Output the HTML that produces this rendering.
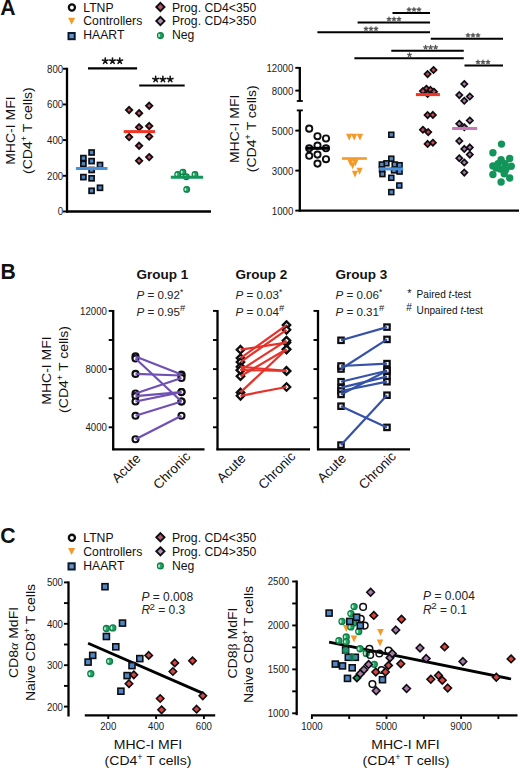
<!DOCTYPE html>
<html><head><meta charset="utf-8"><style>
html,body{margin:0;padding:0;background:#fff;}
svg{display:block;font-family:"Liberation Sans", sans-serif;}
</style></head><body>
<svg width="520" height="768" viewBox="0 0 520 768">
<rect width="520" height="768" fill="#fff"/>
<text x="0.20" y="14.80" font-size="21.2" text-anchor="start" font-weight="bold" fill="#111" >A</text>
<circle cx="71.90" cy="7.50" r="3.05" fill="#fff" stroke="#0d0d12" stroke-width="2.3"/>
<text x="83.30" y="11.50" font-size="12.2" text-anchor="start" font-weight="normal" fill="#111" >LTNP</text>
<path d="M68.10 17.65L75.10 17.65L71.60 24.65Z" fill="#f39a2a"/>
<text x="83.30" y="25.35" font-size="12.2" text-anchor="start" font-weight="normal" fill="#111" >Controllers</text>
<rect x="68.50" y="33.00" width="6.2" height="6.2" fill="#6d93c0" stroke="#0b1a30" stroke-width="2.0"/>
<text x="83.30" y="39.20" font-size="12.2" text-anchor="start" font-weight="normal" fill="#111" >HAART</text>
<path d="M160.40 2.90L164.50 7.00L160.40 11.10L156.30 7.00Z" fill="#b25a68" stroke="#0d0d12" stroke-width="1.9"/>
<text x="171.90" y="11.50" font-size="12.2" text-anchor="start" font-weight="normal" fill="#111" >Prog. CD4&lt;350</text>
<path d="M160.40 16.95L164.50 21.05L160.40 25.15L156.30 21.05Z" fill="#b490b4" stroke="#0d0d12" stroke-width="1.9"/>
<text x="171.90" y="25.35" font-size="12.2" text-anchor="start" font-weight="normal" fill="#111" >Prog. CD4&gt;350</text>
<circle cx="160.40" cy="35.60" r="2.90" fill="#23a264" stroke="#0b8045" stroke-width="1.3"/>
<ellipse cx="159.07" cy="35.60" rx="0.91" ry="1.75" fill="#bfe8d2"/>
<text x="171.90" y="39.20" font-size="12.2" text-anchor="start" font-weight="normal" fill="#111" >Neg</text>
<line x1="67.00" y1="67.75" x2="67.00" y2="212.50" stroke="#000" stroke-width="2.3"/>
<line x1="66.00" y1="211.50" x2="211.00" y2="211.50" stroke="#000" stroke-width="2.3"/>
<line x1="63.00" y1="211.50" x2="67.00" y2="211.50" stroke="#000" stroke-width="1.9"/>
<text x="0" y="0" font-size="10.5" text-anchor="end" fill="#1a1a1a" transform="translate(63.20,215.40) scale(0.92,1)">0</text>
<line x1="63.00" y1="175.81" x2="67.00" y2="175.81" stroke="#000" stroke-width="1.9"/>
<text x="0" y="0" font-size="10.5" text-anchor="end" fill="#1a1a1a" transform="translate(63.20,179.71) scale(0.92,1)">200</text>
<line x1="63.00" y1="140.12" x2="67.00" y2="140.12" stroke="#000" stroke-width="1.9"/>
<text x="0" y="0" font-size="10.5" text-anchor="end" fill="#1a1a1a" transform="translate(63.20,144.03) scale(0.92,1)">400</text>
<line x1="63.00" y1="104.44" x2="67.00" y2="104.44" stroke="#000" stroke-width="1.9"/>
<text x="0" y="0" font-size="10.5" text-anchor="end" fill="#1a1a1a" transform="translate(63.20,108.34) scale(0.92,1)">600</text>
<line x1="63.00" y1="68.75" x2="67.00" y2="68.75" stroke="#000" stroke-width="1.9"/>
<text x="0" y="0" font-size="10.5" text-anchor="end" fill="#1a1a1a" transform="translate(63.20,72.65) scale(0.92,1)">800</text>
<text x="0" y="0" font-size="13.3" text-anchor="middle" fill="#111" transform="translate(14.60,130.60) rotate(-90) scale(1.055,1)" >MHC-I MFI</text>
<text x="0" y="0" font-size="13.3" text-anchor="middle" fill="#111" transform="translate(32.00,130.60) rotate(-90) scale(1.055,1)" >(CD4<tspan font-size="8.5" dy="-4.6">+</tspan><tspan dy="4.6"> </tspan>T cells)</text>
<line x1="88.00" y1="68.40" x2="137.10" y2="68.40" stroke="#000" stroke-width="2.1"/>
<path d="M105.25 61.00L105.25 58.10M105.25 61.00L108.01 60.10M105.25 61.00L106.95 63.35M105.25 61.00L103.55 63.35M105.25 61.00L102.49 60.10" stroke="#111" stroke-width="1.6" stroke-linecap="round" fill="none"/>
<path d="M112.50 61.00L112.50 58.10M112.50 61.00L115.26 60.10M112.50 61.00L114.20 63.35M112.50 61.00L110.80 63.35M112.50 61.00L109.74 60.10" stroke="#111" stroke-width="1.6" stroke-linecap="round" fill="none"/>
<path d="M119.75 61.00L119.75 58.10M119.75 61.00L122.51 60.10M119.75 61.00L121.45 63.35M119.75 61.00L118.05 63.35M119.75 61.00L116.99 60.10" stroke="#111" stroke-width="1.6" stroke-linecap="round" fill="none"/>
<line x1="139.20" y1="85.50" x2="184.70" y2="85.50" stroke="#000" stroke-width="2.1"/>
<path d="M155.65 79.30L155.65 76.40M155.65 79.30L158.41 78.40M155.65 79.30L157.35 81.65M155.65 79.30L153.95 81.65M155.65 79.30L152.89 78.40" stroke="#111" stroke-width="1.6" stroke-linecap="round" fill="none"/>
<path d="M162.90 79.30L162.90 76.40M162.90 79.30L165.66 78.40M162.90 79.30L164.60 81.65M162.90 79.30L161.20 81.65M162.90 79.30L160.14 78.40" stroke="#111" stroke-width="1.6" stroke-linecap="round" fill="none"/>
<path d="M170.15 79.30L170.15 76.40M170.15 79.30L172.91 78.40M170.15 79.30L171.85 81.65M170.15 79.30L168.45 81.65M170.15 79.30L167.39 78.40" stroke="#111" stroke-width="1.6" stroke-linecap="round" fill="none"/>
<rect x="89.10" y="150.00" width="5.00" height="5.00" fill="#4f86c4" stroke="#0d0d12" stroke-width="1.7"/>
<rect x="80.90" y="155.60" width="5.00" height="5.00" fill="#4f86c4" stroke="#0d0d12" stroke-width="1.7"/>
<rect x="89.10" y="158.60" width="5.00" height="5.00" fill="#4f86c4" stroke="#0d0d12" stroke-width="1.7"/>
<rect x="80.90" y="161.30" width="5.00" height="5.00" fill="#4f86c4" stroke="#0d0d12" stroke-width="1.7"/>
<rect x="97.50" y="162.50" width="5.00" height="5.00" fill="#4f86c4" stroke="#0d0d12" stroke-width="1.7"/>
<rect x="89.10" y="167.50" width="5.00" height="5.00" fill="#4f86c4" stroke="#0d0d12" stroke-width="1.7"/>
<rect x="80.90" y="174.60" width="5.00" height="5.00" fill="#4f86c4" stroke="#0d0d12" stroke-width="1.7"/>
<rect x="89.10" y="175.80" width="5.00" height="5.00" fill="#4f86c4" stroke="#0d0d12" stroke-width="1.7"/>
<rect x="97.50" y="185.30" width="5.00" height="5.00" fill="#4f86c4" stroke="#0d0d12" stroke-width="1.7"/>
<rect x="89.10" y="188.30" width="5.00" height="5.00" fill="#4f86c4" stroke="#0d0d12" stroke-width="1.7"/>
<line x1="75.90" y1="168.50" x2="107.50" y2="168.50" stroke="#4a90d8" stroke-width="3.0"/>
<path d="M129.10 106.80L132.30 110.00L129.10 113.20L125.90 110.00Z" fill="#c9505a" stroke="#0d0d12" stroke-width="1.8"/>
<path d="M139.10 110.00L142.30 113.20L139.10 116.40L135.90 113.20Z" fill="#c9505a" stroke="#0d0d12" stroke-width="1.8"/>
<path d="M149.20 102.55L152.40 105.75L149.20 108.95L146.00 105.75Z" fill="#c9505a" stroke="#0d0d12" stroke-width="1.8"/>
<path d="M139.10 124.10L142.30 127.30L139.10 130.50L135.90 127.30Z" fill="#c9505a" stroke="#0d0d12" stroke-width="1.8"/>
<path d="M149.20 122.80L152.40 126.00L149.20 129.20L146.00 126.00Z" fill="#c9505a" stroke="#0d0d12" stroke-width="1.8"/>
<path d="M129.10 133.90L132.30 137.10L129.10 140.30L125.90 137.10Z" fill="#c9505a" stroke="#0d0d12" stroke-width="1.8"/>
<path d="M149.20 133.30L152.40 136.50L149.20 139.70L146.00 136.50Z" fill="#c9505a" stroke="#0d0d12" stroke-width="1.8"/>
<path d="M139.10 142.55L142.30 145.75L139.10 148.95L135.90 145.75Z" fill="#c9505a" stroke="#0d0d12" stroke-width="1.8"/>
<path d="M149.20 153.90L152.40 157.10L149.20 160.30L146.00 157.10Z" fill="#c9505a" stroke="#0d0d12" stroke-width="1.8"/>
<path d="M139.10 157.60L142.30 160.80L139.10 164.00L135.90 160.80Z" fill="#c9505a" stroke="#0d0d12" stroke-width="1.8"/>
<line x1="123.70" y1="131.60" x2="155.00" y2="131.60" stroke="#ee3526" stroke-width="3.0"/>
<circle cx="177.70" cy="174.40" r="2.80" fill="#23a264" stroke="#0b8045" stroke-width="1.3"/>
<ellipse cx="176.41" cy="174.40" rx="0.88" ry="1.70" fill="#bfe8d2"/>
<circle cx="182.90" cy="172.10" r="2.80" fill="#23a264" stroke="#0b8045" stroke-width="1.3"/>
<ellipse cx="181.61" cy="172.10" rx="0.88" ry="1.70" fill="#bfe8d2"/>
<circle cx="195.00" cy="174.40" r="2.80" fill="#23a264" stroke="#0b8045" stroke-width="1.3"/>
<ellipse cx="193.71" cy="174.40" rx="0.88" ry="1.70" fill="#bfe8d2"/>
<circle cx="186.30" cy="176.70" r="2.80" fill="#23a264" stroke="#0b8045" stroke-width="1.3"/>
<ellipse cx="185.01" cy="176.70" rx="0.88" ry="1.70" fill="#bfe8d2"/>
<circle cx="186.70" cy="189.40" r="2.80" fill="#23a264" stroke="#0b8045" stroke-width="1.3"/>
<ellipse cx="185.41" cy="189.40" rx="0.88" ry="1.70" fill="#bfe8d2"/>
<line x1="170.80" y1="177.30" x2="203.10" y2="177.30" stroke="#13955a" stroke-width="3.0"/>
<line x1="299.80" y1="67.00" x2="299.80" y2="101.00" stroke="#000" stroke-width="2.3"/>
<line x1="296.80" y1="101.00" x2="302.80" y2="101.00" stroke="#000" stroke-width="1.8"/>
<line x1="296.80" y1="110.40" x2="302.80" y2="110.40" stroke="#000" stroke-width="1.8"/>
<line x1="299.80" y1="110.40" x2="299.80" y2="211.60" stroke="#000" stroke-width="2.3"/>
<line x1="298.80" y1="210.60" x2="519.00" y2="210.60" stroke="#000" stroke-width="2.3"/>
<line x1="295.30" y1="67.85" x2="299.80" y2="67.85" stroke="#000" stroke-width="1.9"/>
<text x="0" y="0" font-size="10.5" text-anchor="end" fill="#1a1a1a" transform="translate(293.30,71.75) scale(0.92,1)">12000</text>
<line x1="295.30" y1="90.60" x2="299.80" y2="90.60" stroke="#000" stroke-width="1.9"/>
<text x="0" y="0" font-size="10.5" text-anchor="end" fill="#1a1a1a" transform="translate(293.30,94.50) scale(0.92,1)">8000</text>
<line x1="295.30" y1="130.60" x2="299.80" y2="130.60" stroke="#000" stroke-width="1.9"/>
<text x="0" y="0" font-size="10.5" text-anchor="end" fill="#1a1a1a" transform="translate(293.30,134.50) scale(0.92,1)">5000</text>
<line x1="295.30" y1="170.60" x2="299.80" y2="170.60" stroke="#000" stroke-width="1.9"/>
<text x="0" y="0" font-size="10.5" text-anchor="end" fill="#1a1a1a" transform="translate(293.30,174.50) scale(0.92,1)">3000</text>
<line x1="295.30" y1="210.60" x2="299.80" y2="210.60" stroke="#000" stroke-width="1.9"/>
<text x="0" y="0" font-size="10.5" text-anchor="end" fill="#1a1a1a" transform="translate(293.30,214.50) scale(0.92,1)">1000</text>
<text x="0" y="0" font-size="13.3" text-anchor="middle" fill="#111" transform="translate(239.00,128.80) rotate(-90) scale(1.055,1)" >MHC-I MFI</text>
<text x="0" y="0" font-size="13.3" text-anchor="middle" fill="#111" transform="translate(256.00,128.80) rotate(-90) scale(1.055,1)" >(CD4<tspan font-size="8.5" dy="-4.6">+</tspan><tspan dy="4.6"> </tspan>T cells)</text>
<line x1="392.50" y1="13.00" x2="430.00" y2="13.00" stroke="#000" stroke-width="2.0"/>
<path d="M409.00 9.60L409.00 7.70M409.00 9.60L410.81 9.01M409.00 9.60L410.12 11.14M409.00 9.60L407.88 11.14M409.00 9.60L407.19 9.01" stroke="#555" stroke-width="1.3" stroke-linecap="round" fill="none"/>
<path d="M414.00 9.60L414.00 7.70M414.00 9.60L415.81 9.01M414.00 9.60L415.12 11.14M414.00 9.60L412.88 11.14M414.00 9.60L412.19 9.01" stroke="#555" stroke-width="1.3" stroke-linecap="round" fill="none"/>
<path d="M419.00 9.60L419.00 7.70M419.00 9.60L420.81 9.01M419.00 9.60L420.12 11.14M419.00 9.60L417.88 11.14M419.00 9.60L417.19 9.01" stroke="#555" stroke-width="1.3" stroke-linecap="round" fill="none"/>
<line x1="357.60" y1="22.50" x2="430.00" y2="22.50" stroke="#000" stroke-width="2.0"/>
<path d="M389.00 19.10L389.00 17.20M389.00 19.10L390.81 18.51M389.00 19.10L390.12 20.64M389.00 19.10L387.88 20.64M389.00 19.10L387.19 18.51" stroke="#555" stroke-width="1.3" stroke-linecap="round" fill="none"/>
<path d="M394.00 19.10L394.00 17.20M394.00 19.10L395.81 18.51M394.00 19.10L395.12 20.64M394.00 19.10L392.88 20.64M394.00 19.10L392.19 18.51" stroke="#555" stroke-width="1.3" stroke-linecap="round" fill="none"/>
<path d="M399.00 19.10L399.00 17.20M399.00 19.10L400.81 18.51M399.00 19.10L400.12 20.64M399.00 19.10L397.88 20.64M399.00 19.10L397.19 18.51" stroke="#555" stroke-width="1.3" stroke-linecap="round" fill="none"/>
<line x1="317.40" y1="32.20" x2="430.00" y2="32.20" stroke="#000" stroke-width="2.0"/>
<path d="M366.00 28.80L366.00 26.90M366.00 28.80L367.81 28.21M366.00 28.80L367.12 30.34M366.00 28.80L364.88 30.34M366.00 28.80L364.19 28.21" stroke="#555" stroke-width="1.3" stroke-linecap="round" fill="none"/>
<path d="M371.00 28.80L371.00 26.90M371.00 28.80L372.81 28.21M371.00 28.80L372.12 30.34M371.00 28.80L369.88 30.34M371.00 28.80L369.19 28.21" stroke="#555" stroke-width="1.3" stroke-linecap="round" fill="none"/>
<path d="M376.00 28.80L376.00 26.90M376.00 28.80L377.81 28.21M376.00 28.80L377.12 30.34M376.00 28.80L374.88 30.34M376.00 28.80L374.19 28.21" stroke="#555" stroke-width="1.3" stroke-linecap="round" fill="none"/>
<line x1="430.75" y1="38.75" x2="503.00" y2="38.75" stroke="#000" stroke-width="2.0"/>
<path d="M468.00 35.35L468.00 33.45M468.00 35.35L469.81 34.76M468.00 35.35L469.12 36.89M468.00 35.35L466.88 36.89M468.00 35.35L466.19 34.76" stroke="#555" stroke-width="1.3" stroke-linecap="round" fill="none"/>
<path d="M473.00 35.35L473.00 33.45M473.00 35.35L474.81 34.76M473.00 35.35L474.12 36.89M473.00 35.35L471.88 36.89M473.00 35.35L471.19 34.76" stroke="#555" stroke-width="1.3" stroke-linecap="round" fill="none"/>
<path d="M478.00 35.35L478.00 33.45M478.00 35.35L479.81 34.76M478.00 35.35L479.12 36.89M478.00 35.35L476.88 36.89M478.00 35.35L476.19 34.76" stroke="#555" stroke-width="1.3" stroke-linecap="round" fill="none"/>
<line x1="391.30" y1="50.75" x2="463.75" y2="50.75" stroke="#000" stroke-width="2.0"/>
<path d="M425.60 47.35L425.60 45.45M425.60 47.35L427.41 46.76M425.60 47.35L426.72 48.89M425.60 47.35L424.48 48.89M425.60 47.35L423.79 46.76" stroke="#555" stroke-width="1.3" stroke-linecap="round" fill="none"/>
<path d="M430.60 47.35L430.60 45.45M430.60 47.35L432.41 46.76M430.60 47.35L431.72 48.89M430.60 47.35L429.48 48.89M430.60 47.35L428.79 46.76" stroke="#555" stroke-width="1.3" stroke-linecap="round" fill="none"/>
<path d="M435.60 47.35L435.60 45.45M435.60 47.35L437.41 46.76M435.60 47.35L436.72 48.89M435.60 47.35L434.48 48.89M435.60 47.35L433.79 46.76" stroke="#555" stroke-width="1.3" stroke-linecap="round" fill="none"/>
<line x1="354.40" y1="58.25" x2="463.75" y2="58.25" stroke="#000" stroke-width="2.0"/>
<path d="M409.50 54.85L409.50 52.95M409.50 54.85L411.31 54.26M409.50 54.85L410.62 56.39M409.50 54.85L408.38 56.39M409.50 54.85L407.69 54.26" stroke="#555" stroke-width="1.3" stroke-linecap="round" fill="none"/>
<line x1="464.50" y1="65.50" x2="503.00" y2="65.50" stroke="#000" stroke-width="2.0"/>
<path d="M478.00 62.10L478.00 60.20M478.00 62.10L479.81 61.51M478.00 62.10L479.12 63.64M478.00 62.10L476.88 63.64M478.00 62.10L476.19 61.51" stroke="#555" stroke-width="1.3" stroke-linecap="round" fill="none"/>
<path d="M483.00 62.10L483.00 60.20M483.00 62.10L484.81 61.51M483.00 62.10L484.12 63.64M483.00 62.10L481.88 63.64M483.00 62.10L481.19 61.51" stroke="#555" stroke-width="1.3" stroke-linecap="round" fill="none"/>
<path d="M488.00 62.10L488.00 60.20M488.00 62.10L489.81 61.51M488.00 62.10L489.12 63.64M488.00 62.10L486.88 63.64M488.00 62.10L486.19 61.51" stroke="#555" stroke-width="1.3" stroke-linecap="round" fill="none"/>
<circle cx="309.20" cy="128.65" r="3.10" fill="#fff" stroke="#0d0d12" stroke-width="1.9"/>
<circle cx="317.50" cy="136.20" r="3.10" fill="#fff" stroke="#0d0d12" stroke-width="1.9"/>
<circle cx="326.00" cy="138.50" r="3.10" fill="#fff" stroke="#0d0d12" stroke-width="1.9"/>
<circle cx="317.50" cy="145.60" r="3.10" fill="#fff" stroke="#0d0d12" stroke-width="1.9"/>
<circle cx="309.20" cy="148.30" r="3.10" fill="#fff" stroke="#0d0d12" stroke-width="1.9"/>
<circle cx="326.00" cy="148.30" r="3.10" fill="#fff" stroke="#0d0d12" stroke-width="1.9"/>
<circle cx="309.20" cy="155.80" r="3.10" fill="#fff" stroke="#0d0d12" stroke-width="1.9"/>
<circle cx="317.50" cy="154.60" r="3.10" fill="#fff" stroke="#0d0d12" stroke-width="1.9"/>
<circle cx="326.00" cy="159.20" r="3.10" fill="#fff" stroke="#0d0d12" stroke-width="1.9"/>
<circle cx="317.50" cy="163.60" r="3.10" fill="#fff" stroke="#0d0d12" stroke-width="1.9"/>
<line x1="305.80" y1="148.30" x2="329.40" y2="148.30" stroke="#000" stroke-width="3.0"/>
<path d="M346.10 133.80L352.30 133.80L349.20 140.80Z" fill="#f39a2a"/>
<path d="M351.10 133.80L357.30 133.80L354.20 140.80Z" fill="#f39a2a"/>
<path d="M356.90 133.80L363.10 133.80L360.00 140.80Z" fill="#f39a2a"/>
<path d="M347.30 159.20L353.50 159.20L350.40 166.20Z" fill="#f39a2a"/>
<path d="M352.30 159.20L358.50 159.20L355.40 166.20Z" fill="#f39a2a"/>
<path d="M349.60 162.30L355.80 162.30L352.70 169.30Z" fill="#f39a2a"/>
<path d="M351.90 170.70L358.10 170.70L355.00 177.70Z" fill="#f39a2a"/>
<path d="M356.50 167.70L362.70 167.70L359.60 174.70Z" fill="#f39a2a"/>
<line x1="341.90" y1="158.50" x2="366.90" y2="158.50" stroke="#f39a2a" stroke-width="2.6"/>
<rect x="388.85" y="132.30" width="4.90" height="4.90" fill="#4f86c4" stroke="#0d0d12" stroke-width="1.6"/>
<rect x="388.85" y="156.25" width="4.90" height="4.90" fill="#4f86c4" stroke="#0d0d12" stroke-width="1.6"/>
<rect x="383.95" y="160.85" width="4.90" height="4.90" fill="#4f86c4" stroke="#0d0d12" stroke-width="1.6"/>
<rect x="379.35" y="162.05" width="4.90" height="4.90" fill="#4f86c4" stroke="#0d0d12" stroke-width="1.6"/>
<rect x="392.25" y="162.05" width="4.90" height="4.90" fill="#4f86c4" stroke="#0d0d12" stroke-width="1.6"/>
<rect x="397.15" y="162.75" width="4.90" height="4.90" fill="#4f86c4" stroke="#0d0d12" stroke-width="1.6"/>
<rect x="379.55" y="167.05" width="4.90" height="4.90" fill="#4f86c4" stroke="#0d0d12" stroke-width="1.6"/>
<rect x="391.55" y="167.95" width="4.90" height="4.90" fill="#4f86c4" stroke="#0d0d12" stroke-width="1.6"/>
<rect x="397.15" y="169.15" width="4.90" height="4.90" fill="#4f86c4" stroke="#0d0d12" stroke-width="1.6"/>
<rect x="379.95" y="171.65" width="4.90" height="4.90" fill="#4f86c4" stroke="#0d0d12" stroke-width="1.6"/>
<rect x="388.85" y="175.35" width="4.90" height="4.90" fill="#4f86c4" stroke="#0d0d12" stroke-width="1.6"/>
<rect x="396.85" y="183.05" width="4.90" height="4.90" fill="#4f86c4" stroke="#0d0d12" stroke-width="1.6"/>
<rect x="388.85" y="189.65" width="4.90" height="4.90" fill="#4f86c4" stroke="#0d0d12" stroke-width="1.6"/>
<line x1="379.30" y1="168.90" x2="403.20" y2="168.90" stroke="#4a90d8" stroke-width="3.0"/>
<path d="M433.50 66.90L436.60 70.00L433.50 73.10L430.40 70.00Z" fill="#c44a55" stroke="#0d0d12" stroke-width="1.7"/>
<path d="M427.60 71.00L430.70 74.10L427.60 77.20L424.50 74.10Z" fill="#c44a55" stroke="#0d0d12" stroke-width="1.7"/>
<path d="M426.40 85.60L429.50 88.70L426.40 91.80L423.30 88.70Z" fill="#c44a55" stroke="#0d0d12" stroke-width="1.7"/>
<path d="M430.50 86.80L433.60 89.90L430.50 93.00L427.40 89.90Z" fill="#c44a55" stroke="#0d0d12" stroke-width="1.7"/>
<path d="M422.90 88.00L426.00 91.10L422.90 94.20L419.80 91.10Z" fill="#c44a55" stroke="#0d0d12" stroke-width="1.7"/>
<path d="M434.00 88.60L437.10 91.70L434.00 94.80L430.90 91.70Z" fill="#c44a55" stroke="#0d0d12" stroke-width="1.7"/>
<path d="M427.60 90.90L430.70 94.00L427.60 97.10L424.50 94.00Z" fill="#c44a55" stroke="#0d0d12" stroke-width="1.7"/>
<path d="M427.60 112.00L430.70 115.10L427.60 118.20L424.50 115.10Z" fill="#c44a55" stroke="#0d0d12" stroke-width="1.7"/>
<path d="M432.90 111.80L436.00 114.90L432.90 118.00L429.80 114.90Z" fill="#c44a55" stroke="#0d0d12" stroke-width="1.7"/>
<path d="M422.90 126.70L426.00 129.80L422.90 132.90L419.80 129.80Z" fill="#c44a55" stroke="#0d0d12" stroke-width="1.7"/>
<path d="M428.20 129.00L431.30 132.10L428.20 135.20L425.10 132.10Z" fill="#c44a55" stroke="#0d0d12" stroke-width="1.7"/>
<path d="M427.60 140.80L430.70 143.90L427.60 147.00L424.50 143.90Z" fill="#c44a55" stroke="#0d0d12" stroke-width="1.7"/>
<path d="M432.90 139.60L436.00 142.70L432.90 145.80L429.80 142.70Z" fill="#c44a55" stroke="#0d0d12" stroke-width="1.7"/>
<line x1="415.90" y1="94.60" x2="439.90" y2="94.60" stroke="#ee3526" stroke-width="3.0"/>
<path d="M464.30 80.90L467.40 84.00L464.30 87.10L461.20 84.00Z" fill="#a77aa6" stroke="#0d0d12" stroke-width="1.7"/>
<path d="M459.30 92.00L462.40 95.10L459.30 98.20L456.20 95.10Z" fill="#a77aa6" stroke="#0d0d12" stroke-width="1.7"/>
<path d="M469.80 93.40L472.90 96.50L469.80 99.60L466.70 96.50Z" fill="#a77aa6" stroke="#0d0d12" stroke-width="1.7"/>
<path d="M464.30 97.70L467.40 100.80L464.30 103.90L461.20 100.80Z" fill="#a77aa6" stroke="#0d0d12" stroke-width="1.7"/>
<path d="M469.80 117.40L472.90 120.50L469.80 123.60L466.70 120.50Z" fill="#a77aa6" stroke="#0d0d12" stroke-width="1.7"/>
<path d="M459.30 120.70L462.40 123.80L459.30 126.90L456.20 123.80Z" fill="#a77aa6" stroke="#0d0d12" stroke-width="1.7"/>
<path d="M464.30 124.20L467.40 127.30L464.30 130.40L461.20 127.30Z" fill="#a77aa6" stroke="#0d0d12" stroke-width="1.7"/>
<path d="M459.30 137.90L462.40 141.00L459.30 144.10L456.20 141.00Z" fill="#a77aa6" stroke="#0d0d12" stroke-width="1.7"/>
<path d="M464.30 145.80L467.40 148.90L464.30 152.00L461.20 148.90Z" fill="#a77aa6" stroke="#0d0d12" stroke-width="1.7"/>
<path d="M469.80 144.30L472.90 147.40L469.80 150.50L466.70 147.40Z" fill="#a77aa6" stroke="#0d0d12" stroke-width="1.7"/>
<path d="M469.80 151.50L472.90 154.60L469.80 157.70L466.70 154.60Z" fill="#a77aa6" stroke="#0d0d12" stroke-width="1.7"/>
<path d="M459.30 155.10L462.40 158.20L459.30 161.30L456.20 158.20Z" fill="#a77aa6" stroke="#0d0d12" stroke-width="1.7"/>
<path d="M464.30 159.40L467.40 162.50L464.30 165.60L461.20 162.50Z" fill="#a77aa6" stroke="#0d0d12" stroke-width="1.7"/>
<path d="M464.30 169.50L467.40 172.60L464.30 175.70L461.20 172.60Z" fill="#a77aa6" stroke="#0d0d12" stroke-width="1.7"/>
<line x1="452.15" y1="128.50" x2="477.20" y2="128.50" stroke="#c878b8" stroke-width="3.0"/>
<circle cx="501.50" cy="144.10" r="3.7" fill="#13955a"/>
<circle cx="492.90" cy="152.70" r="3.7" fill="#13955a"/>
<circle cx="509.70" cy="158.50" r="3.7" fill="#13955a"/>
<circle cx="501.10" cy="159.70" r="3.7" fill="#13955a"/>
<circle cx="492.90" cy="165.90" r="3.7" fill="#13955a"/>
<circle cx="498.00" cy="163.60" r="3.7" fill="#13955a"/>
<circle cx="505.00" cy="163.60" r="3.7" fill="#13955a"/>
<circle cx="511.25" cy="166.30" r="3.7" fill="#13955a"/>
<circle cx="500.30" cy="169.00" r="3.7" fill="#13955a"/>
<circle cx="505.80" cy="169.80" r="3.7" fill="#13955a"/>
<circle cx="492.90" cy="174.50" r="3.7" fill="#13955a"/>
<circle cx="504.20" cy="173.75" r="3.7" fill="#13955a"/>
<circle cx="509.70" cy="178.00" r="3.7" fill="#13955a"/>
<circle cx="501.10" cy="182.00" r="3.7" fill="#13955a"/>
<circle cx="496.00" cy="168.00" r="3.7" fill="#13955a"/>
<text x="0.60" y="279.10" font-size="21.2" text-anchor="start" font-weight="bold" fill="#111" >B</text>
<line x1="113.20" y1="310.00" x2="113.20" y2="450.20" stroke="#000" stroke-width="2.3"/>
<line x1="112.20" y1="449.30" x2="204.50" y2="449.30" stroke="#000" stroke-width="2.3"/>
<line x1="108.70" y1="310.90" x2="113.20" y2="310.90" stroke="#000" stroke-width="1.9"/>
<text x="0" y="0" font-size="10.5" text-anchor="end" fill="#1a1a1a" transform="translate(106.90,314.80) scale(0.92,1)">12000</text>
<line x1="108.70" y1="340.00" x2="113.20" y2="340.00" stroke="#000" stroke-width="1.9"/>
<line x1="108.70" y1="369.10" x2="113.20" y2="369.10" stroke="#000" stroke-width="1.9"/>
<text x="0" y="0" font-size="10.5" text-anchor="end" fill="#1a1a1a" transform="translate(106.90,373.00) scale(0.92,1)">8000</text>
<line x1="108.70" y1="398.20" x2="113.20" y2="398.20" stroke="#000" stroke-width="1.9"/>
<line x1="108.70" y1="427.30" x2="113.20" y2="427.30" stroke="#000" stroke-width="1.9"/>
<text x="0" y="0" font-size="10.5" text-anchor="end" fill="#1a1a1a" transform="translate(106.90,431.20) scale(0.92,1)">4000</text>
<text x="162.50" y="279.00" font-size="13.5" text-anchor="middle" font-weight="bold" fill="#111" >Group 1</text>
<text x="136.50" y="299.30" font-size="11.6" text-anchor="start" font-weight="normal" fill="#222" ><tspan font-style="italic">P</tspan> = 0.92<tspan font-size="8.5" dy="-4.2">*</tspan></text>
<text x="136.50" y="315.50" font-size="11.6" text-anchor="start" font-weight="normal" fill="#222" ><tspan font-style="italic">P</tspan> = 0.95<tspan font-size="9.5" dy="-4.2">#</tspan></text>
<text x="0" y="0" font-size="13.4" text-anchor="end" fill="#111" transform="translate(141.50,459.30) rotate(-45)">Acute</text>
<text x="0" y="0" font-size="13.4" text-anchor="end" fill="#111" transform="translate(191.30,457.30) rotate(-45)">Chronic</text>
<line x1="217.50" y1="310.00" x2="217.50" y2="450.20" stroke="#000" stroke-width="2.3"/>
<line x1="216.50" y1="449.30" x2="310.00" y2="449.30" stroke="#000" stroke-width="2.3"/>
<line x1="213.00" y1="310.90" x2="217.50" y2="310.90" stroke="#000" stroke-width="1.9"/>
<line x1="213.00" y1="340.00" x2="217.50" y2="340.00" stroke="#000" stroke-width="1.9"/>
<line x1="213.00" y1="369.10" x2="217.50" y2="369.10" stroke="#000" stroke-width="1.9"/>
<line x1="213.00" y1="398.20" x2="217.50" y2="398.20" stroke="#000" stroke-width="1.9"/>
<line x1="213.00" y1="427.30" x2="217.50" y2="427.30" stroke="#000" stroke-width="1.9"/>
<text x="261.50" y="279.00" font-size="13.5" text-anchor="middle" font-weight="bold" fill="#111" >Group 2</text>
<text x="235.50" y="299.30" font-size="11.6" text-anchor="start" font-weight="normal" fill="#222" ><tspan font-style="italic">P</tspan> = 0.03<tspan font-size="8.5" dy="-4.2">*</tspan></text>
<text x="235.50" y="315.50" font-size="11.6" text-anchor="start" font-weight="normal" fill="#222" ><tspan font-style="italic">P</tspan> = 0.04<tspan font-size="9.5" dy="-4.2">#</tspan></text>
<text x="0" y="0" font-size="13.4" text-anchor="end" fill="#111" transform="translate(246.50,459.30) rotate(-45)">Acute</text>
<text x="0" y="0" font-size="13.4" text-anchor="end" fill="#111" transform="translate(296.30,457.30) rotate(-45)">Chronic</text>
<line x1="318.00" y1="310.00" x2="318.00" y2="450.20" stroke="#000" stroke-width="2.3"/>
<line x1="317.00" y1="449.30" x2="410.00" y2="449.30" stroke="#000" stroke-width="2.3"/>
<line x1="313.50" y1="310.90" x2="318.00" y2="310.90" stroke="#000" stroke-width="1.9"/>
<line x1="313.50" y1="340.00" x2="318.00" y2="340.00" stroke="#000" stroke-width="1.9"/>
<line x1="313.50" y1="369.10" x2="318.00" y2="369.10" stroke="#000" stroke-width="1.9"/>
<line x1="313.50" y1="398.20" x2="318.00" y2="398.20" stroke="#000" stroke-width="1.9"/>
<line x1="313.50" y1="427.30" x2="318.00" y2="427.30" stroke="#000" stroke-width="1.9"/>
<text x="361.50" y="279.00" font-size="13.5" text-anchor="middle" font-weight="bold" fill="#111" >Group 3</text>
<text x="335.50" y="299.30" font-size="11.6" text-anchor="start" font-weight="normal" fill="#222" ><tspan font-style="italic">P</tspan> = 0.06<tspan font-size="8.5" dy="-4.2">*</tspan></text>
<text x="335.50" y="315.50" font-size="11.6" text-anchor="start" font-weight="normal" fill="#222" ><tspan font-style="italic">P</tspan> = 0.31<tspan font-size="9.5" dy="-4.2">#</tspan></text>
<text x="0" y="0" font-size="13.4" text-anchor="end" fill="#111" transform="translate(347.00,459.30) rotate(-45)">Acute</text>
<text x="0" y="0" font-size="13.4" text-anchor="end" fill="#111" transform="translate(396.80,457.30) rotate(-45)">Chronic</text>
<text x="0" y="0" font-size="13.3" text-anchor="middle" fill="#111" transform="translate(51.30,370.50) rotate(-90) scale(1.055,1)" >MHC-I MFI</text>
<text x="0" y="0" font-size="13.3" text-anchor="middle" fill="#111" transform="translate(67.50,369.50) rotate(-90) scale(1.055,1)" >(CD4<tspan font-size="8.5" dy="-4.6">+</tspan><tspan dy="4.6"> </tspan>T cells)</text>
<text x="407.30" y="296.80" font-size="11" text-anchor="start" font-weight="normal" fill="#111" >*</text>
<text x="416.60" y="298.20" font-size="10.1" text-anchor="start" font-weight="normal" fill="#111" >Paired <tspan font-style="italic">t</tspan>-test</text>
<text x="406.30" y="310.80" font-size="10" text-anchor="start" font-weight="normal" fill="#111" >#</text>
<text x="416.60" y="313.60" font-size="10.1" text-anchor="start" font-weight="normal" fill="#111" >Unpaired <tspan font-style="italic">t</tspan>-test</text>
<circle cx="135.50" cy="356.40" r="3.00" fill="#fff" stroke="#0d0d12" stroke-width="2.1"/>
<circle cx="181.50" cy="374.60" r="3.00" fill="#fff" stroke="#0d0d12" stroke-width="2.1"/>
<circle cx="135.50" cy="358.50" r="3.00" fill="#fff" stroke="#0d0d12" stroke-width="2.1"/>
<circle cx="181.50" cy="401.50" r="3.00" fill="#fff" stroke="#0d0d12" stroke-width="2.1"/>
<circle cx="135.50" cy="373.90" r="3.00" fill="#fff" stroke="#0d0d12" stroke-width="2.1"/>
<circle cx="181.50" cy="375.50" r="3.00" fill="#fff" stroke="#0d0d12" stroke-width="2.1"/>
<circle cx="135.50" cy="393.50" r="3.00" fill="#fff" stroke="#0d0d12" stroke-width="2.1"/>
<circle cx="181.50" cy="378.00" r="3.00" fill="#fff" stroke="#0d0d12" stroke-width="2.1"/>
<circle cx="135.50" cy="396.10" r="3.00" fill="#fff" stroke="#0d0d12" stroke-width="2.1"/>
<circle cx="181.50" cy="392.10" r="3.00" fill="#fff" stroke="#0d0d12" stroke-width="2.1"/>
<circle cx="135.50" cy="401.50" r="3.00" fill="#fff" stroke="#0d0d12" stroke-width="2.1"/>
<circle cx="181.50" cy="392.10" r="3.00" fill="#fff" stroke="#0d0d12" stroke-width="2.1"/>
<circle cx="135.50" cy="415.70" r="3.00" fill="#fff" stroke="#0d0d12" stroke-width="2.1"/>
<circle cx="181.50" cy="401.50" r="3.00" fill="#fff" stroke="#0d0d12" stroke-width="2.1"/>
<circle cx="135.50" cy="439.20" r="3.00" fill="#fff" stroke="#0d0d12" stroke-width="2.1"/>
<circle cx="181.50" cy="415.70" r="3.00" fill="#fff" stroke="#0d0d12" stroke-width="2.1"/>
<line x1="135.50" y1="356.40" x2="181.50" y2="374.60" stroke="#7050b4" stroke-width="2.2"/>
<line x1="135.50" y1="358.50" x2="181.50" y2="401.50" stroke="#7050b4" stroke-width="2.2"/>
<line x1="135.50" y1="373.90" x2="181.50" y2="375.50" stroke="#7050b4" stroke-width="2.2"/>
<line x1="135.50" y1="393.50" x2="181.50" y2="378.00" stroke="#7050b4" stroke-width="2.2"/>
<line x1="135.50" y1="396.10" x2="181.50" y2="392.10" stroke="#7050b4" stroke-width="2.2"/>
<line x1="135.50" y1="401.50" x2="181.50" y2="392.10" stroke="#7050b4" stroke-width="2.2"/>
<line x1="135.50" y1="415.70" x2="181.50" y2="401.50" stroke="#7050b4" stroke-width="2.2"/>
<line x1="135.50" y1="439.20" x2="181.50" y2="415.70" stroke="#7050b4" stroke-width="2.2"/>
<path d="M240.50 346.00L244.20 349.70L240.50 353.40L236.80 349.70Z" fill="#fff" stroke="#0d0d12" stroke-width="2.3"/>
<path d="M286.50 338.90L290.20 342.60L286.50 346.30L282.80 342.60Z" fill="#fff" stroke="#0d0d12" stroke-width="2.3"/>
<path d="M240.50 354.40L244.20 358.10L240.50 361.80L236.80 358.10Z" fill="#fff" stroke="#0d0d12" stroke-width="2.3"/>
<path d="M286.50 321.40L290.20 325.10L286.50 328.80L282.80 325.10Z" fill="#fff" stroke="#0d0d12" stroke-width="2.3"/>
<path d="M240.50 358.40L244.20 362.10L240.50 365.80L236.80 362.10Z" fill="#fff" stroke="#0d0d12" stroke-width="2.3"/>
<path d="M286.50 326.10L290.20 329.80L286.50 333.50L282.80 329.80Z" fill="#fff" stroke="#0d0d12" stroke-width="2.3"/>
<path d="M240.50 363.10L244.20 366.80L240.50 370.50L236.80 366.80Z" fill="#fff" stroke="#0d0d12" stroke-width="2.3"/>
<path d="M286.50 367.20L290.20 370.90L286.50 374.60L282.80 370.90Z" fill="#fff" stroke="#0d0d12" stroke-width="2.3"/>
<path d="M240.50 366.50L244.20 370.20L240.50 373.90L236.80 370.20Z" fill="#fff" stroke="#0d0d12" stroke-width="2.3"/>
<path d="M286.50 336.90L290.20 340.60L286.50 344.30L282.80 340.60Z" fill="#fff" stroke="#0d0d12" stroke-width="2.3"/>
<path d="M240.50 372.50L244.20 376.20L240.50 379.90L236.80 376.20Z" fill="#fff" stroke="#0d0d12" stroke-width="2.3"/>
<path d="M286.50 345.60L290.20 349.30L286.50 353.00L282.80 349.30Z" fill="#fff" stroke="#0d0d12" stroke-width="2.3"/>
<path d="M240.50 388.70L244.20 392.40L240.50 396.10L236.80 392.40Z" fill="#fff" stroke="#0d0d12" stroke-width="2.3"/>
<path d="M286.50 345.60L290.20 349.30L286.50 353.00L282.80 349.30Z" fill="#fff" stroke="#0d0d12" stroke-width="2.3"/>
<path d="M240.50 392.10L244.20 395.80L240.50 399.50L236.80 395.80Z" fill="#fff" stroke="#0d0d12" stroke-width="2.3"/>
<path d="M286.50 383.30L290.20 387.00L286.50 390.70L282.80 387.00Z" fill="#fff" stroke="#0d0d12" stroke-width="2.3"/>
<path d="M240.50 366.30L244.20 370.00L240.50 373.70L236.80 370.00Z" fill="#fff" stroke="#0d0d12" stroke-width="2.3"/>
<path d="M286.50 367.20L290.20 370.90L286.50 374.60L282.80 370.90Z" fill="#fff" stroke="#0d0d12" stroke-width="2.3"/>
<line x1="240.50" y1="349.70" x2="286.50" y2="342.60" stroke="#e5322a" stroke-width="2.2"/>
<line x1="240.50" y1="358.10" x2="286.50" y2="325.10" stroke="#e5322a" stroke-width="2.2"/>
<line x1="240.50" y1="362.10" x2="286.50" y2="329.80" stroke="#e5322a" stroke-width="2.2"/>
<line x1="240.50" y1="366.80" x2="286.50" y2="370.90" stroke="#e5322a" stroke-width="2.2"/>
<line x1="240.50" y1="370.20" x2="286.50" y2="340.60" stroke="#e5322a" stroke-width="2.2"/>
<line x1="240.50" y1="376.20" x2="286.50" y2="349.30" stroke="#e5322a" stroke-width="2.2"/>
<line x1="240.50" y1="392.40" x2="286.50" y2="349.30" stroke="#e5322a" stroke-width="2.2"/>
<line x1="240.50" y1="395.80" x2="286.50" y2="387.00" stroke="#e5322a" stroke-width="2.2"/>
<line x1="240.50" y1="370.00" x2="286.50" y2="370.90" stroke="#e5322a" stroke-width="2.2"/>
<rect x="338.30" y="337.60" width="5.40" height="5.40" fill="#fff" stroke="#0d0d12" stroke-width="2.2"/>
<rect x="384.30" y="324.40" width="5.40" height="5.40" fill="#fff" stroke="#0d0d12" stroke-width="2.2"/>
<rect x="338.30" y="366.30" width="5.40" height="5.40" fill="#fff" stroke="#0d0d12" stroke-width="2.2"/>
<rect x="384.30" y="336.70" width="5.40" height="5.40" fill="#fff" stroke="#0d0d12" stroke-width="2.2"/>
<rect x="338.30" y="363.30" width="5.40" height="5.40" fill="#fff" stroke="#0d0d12" stroke-width="2.2"/>
<rect x="384.30" y="360.90" width="5.40" height="5.40" fill="#fff" stroke="#0d0d12" stroke-width="2.2"/>
<rect x="338.30" y="379.00" width="5.40" height="5.40" fill="#fff" stroke="#0d0d12" stroke-width="2.2"/>
<rect x="384.30" y="368.00" width="5.40" height="5.40" fill="#fff" stroke="#0d0d12" stroke-width="2.2"/>
<rect x="338.30" y="384.90" width="5.40" height="5.40" fill="#fff" stroke="#0d0d12" stroke-width="2.2"/>
<rect x="384.30" y="373.90" width="5.40" height="5.40" fill="#fff" stroke="#0d0d12" stroke-width="2.2"/>
<rect x="338.30" y="388.30" width="5.40" height="5.40" fill="#fff" stroke="#0d0d12" stroke-width="2.2"/>
<rect x="384.30" y="379.00" width="5.40" height="5.40" fill="#fff" stroke="#0d0d12" stroke-width="2.2"/>
<rect x="338.30" y="391.70" width="5.40" height="5.40" fill="#fff" stroke="#0d0d12" stroke-width="2.2"/>
<rect x="384.30" y="368.00" width="5.40" height="5.40" fill="#fff" stroke="#0d0d12" stroke-width="2.2"/>
<rect x="338.30" y="403.50" width="5.40" height="5.40" fill="#fff" stroke="#0d0d12" stroke-width="2.2"/>
<rect x="384.30" y="424.70" width="5.40" height="5.40" fill="#fff" stroke="#0d0d12" stroke-width="2.2"/>
<rect x="338.30" y="442.40" width="5.40" height="5.40" fill="#fff" stroke="#0d0d12" stroke-width="2.2"/>
<rect x="384.30" y="392.50" width="5.40" height="5.40" fill="#fff" stroke="#0d0d12" stroke-width="2.2"/>
<line x1="341.00" y1="340.30" x2="387.00" y2="327.10" stroke="#3552a8" stroke-width="2.2"/>
<line x1="341.00" y1="369.00" x2="387.00" y2="339.40" stroke="#3552a8" stroke-width="2.2"/>
<line x1="341.00" y1="366.00" x2="387.00" y2="363.60" stroke="#3552a8" stroke-width="2.2"/>
<line x1="341.00" y1="381.70" x2="387.00" y2="370.70" stroke="#3552a8" stroke-width="2.2"/>
<line x1="341.00" y1="387.60" x2="387.00" y2="376.60" stroke="#3552a8" stroke-width="2.2"/>
<line x1="341.00" y1="391.00" x2="387.00" y2="381.70" stroke="#3552a8" stroke-width="2.2"/>
<line x1="341.00" y1="394.40" x2="387.00" y2="370.70" stroke="#3552a8" stroke-width="2.2"/>
<line x1="341.00" y1="406.20" x2="387.00" y2="427.40" stroke="#3552a8" stroke-width="2.2"/>
<line x1="341.00" y1="445.10" x2="387.00" y2="395.20" stroke="#3552a8" stroke-width="2.2"/>
<text x="0.30" y="543.20" font-size="21.2" text-anchor="start" font-weight="bold" fill="#111" >C</text>
<circle cx="71.90" cy="537.80" r="3.05" fill="#fff" stroke="#0d0d12" stroke-width="2.3"/>
<text x="83.30" y="541.80" font-size="12.2" text-anchor="start" font-weight="normal" fill="#111" >LTNP</text>
<path d="M68.10 547.95L75.10 547.95L71.60 554.95Z" fill="#f39a2a"/>
<text x="83.30" y="555.65" font-size="12.2" text-anchor="start" font-weight="normal" fill="#111" >Controllers</text>
<rect x="68.50" y="563.30" width="6.2" height="6.2" fill="#6d93c0" stroke="#0b1a30" stroke-width="2.0"/>
<text x="83.30" y="569.50" font-size="12.2" text-anchor="start" font-weight="normal" fill="#111" >HAART</text>
<path d="M160.40 533.20L164.50 537.30L160.40 541.40L156.30 537.30Z" fill="#b25a68" stroke="#0d0d12" stroke-width="1.9"/>
<text x="171.90" y="541.80" font-size="12.2" text-anchor="start" font-weight="normal" fill="#111" >Prog. CD4&lt;350</text>
<path d="M160.40 547.25L164.50 551.35L160.40 555.45L156.30 551.35Z" fill="#b490b4" stroke="#0d0d12" stroke-width="1.9"/>
<text x="171.90" y="555.65" font-size="12.2" text-anchor="start" font-weight="normal" fill="#111" >Prog. CD4&gt;350</text>
<circle cx="160.40" cy="565.90" r="2.90" fill="#23a264" stroke="#0b8045" stroke-width="1.3"/>
<ellipse cx="159.07" cy="565.90" rx="0.91" ry="1.75" fill="#bfe8d2"/>
<text x="171.90" y="569.50" font-size="12.2" text-anchor="start" font-weight="normal" fill="#111" >Neg</text>
<line x1="68.50" y1="581.40" x2="68.50" y2="716.50" stroke="#000" stroke-width="2.3"/>
<line x1="64.00" y1="582.40" x2="68.50" y2="582.40" stroke="#000" stroke-width="1.9"/>
<text x="0" y="0" font-size="10.5" text-anchor="end" fill="#1a1a1a" transform="translate(63.00,586.30) scale(0.92,1)">500</text>
<line x1="64.00" y1="603.10" x2="68.50" y2="603.10" stroke="#000" stroke-width="1.9"/>
<line x1="64.00" y1="623.80" x2="68.50" y2="623.80" stroke="#000" stroke-width="1.9"/>
<text x="0" y="0" font-size="10.5" text-anchor="end" fill="#1a1a1a" transform="translate(63.00,627.70) scale(0.92,1)">400</text>
<line x1="64.00" y1="644.50" x2="68.50" y2="644.50" stroke="#000" stroke-width="1.9"/>
<line x1="64.00" y1="665.20" x2="68.50" y2="665.20" stroke="#000" stroke-width="1.9"/>
<text x="0" y="0" font-size="10.5" text-anchor="end" fill="#1a1a1a" transform="translate(63.00,669.10) scale(0.92,1)">300</text>
<line x1="64.00" y1="685.90" x2="68.50" y2="685.90" stroke="#000" stroke-width="1.9"/>
<line x1="64.00" y1="706.60" x2="68.50" y2="706.60" stroke="#000" stroke-width="1.9"/>
<text x="0" y="0" font-size="10.5" text-anchor="end" fill="#1a1a1a" transform="translate(63.00,710.50) scale(0.92,1)">200</text>
<line x1="84.80" y1="715.30" x2="215.20" y2="715.30" stroke="#000" stroke-width="2.3"/>
<line x1="108.30" y1="715.30" x2="108.30" y2="719.00" stroke="#000" stroke-width="1.9"/>
<text x="0" y="0" font-size="10.5" text-anchor="middle" fill="#1a1a1a" transform="translate(108.30,730.30) scale(0.92,1)">200</text>
<line x1="156.10" y1="715.30" x2="156.10" y2="719.00" stroke="#000" stroke-width="1.9"/>
<text x="0" y="0" font-size="10.5" text-anchor="middle" fill="#1a1a1a" transform="translate(156.10,730.30) scale(0.92,1)">400</text>
<line x1="203.90" y1="715.30" x2="203.90" y2="719.00" stroke="#000" stroke-width="1.9"/>
<text x="0" y="0" font-size="10.5" text-anchor="middle" fill="#1a1a1a" transform="translate(203.90,730.30) scale(0.92,1)">600</text>
<text x="0" y="0" font-size="13.3" text-anchor="middle" fill="#111" transform="translate(18.00,642.50) rotate(-90) scale(1.055,1)" >CD8<tspan font-family="Liberation Serif" font-style="italic">α</tspan> MdFI</text>
<text x="0" y="0" font-size="13.3" text-anchor="middle" fill="#111" transform="translate(35.00,642.50) rotate(-90) scale(1.055,1)" >Naive CD8<tspan font-size="8.5" dy="-4.6">+</tspan><tspan dy="4.6"> </tspan>T cells</text>
<text x="0" y="0" font-size="13.3" text-anchor="middle" fill="#111" transform="translate(148.00,748.50) scale(1.055,1)">MHC-I MFI</text>
<text x="0" y="0" font-size="13.3" text-anchor="middle" fill="#111" transform="translate(148.00,765.00) scale(1.055,1)">(CD4<tspan font-size="8.5" dy="-4.6">+</tspan><tspan dy="4.6"> </tspan>T cells)</text>
<text x="141.40" y="600.60" font-size="12.0" text-anchor="start" font-weight="normal" fill="#222" ><tspan font-style="italic">P</tspan> = 0.008</text>
<text x="141.40" y="614.30" font-size="12.0" text-anchor="start" font-weight="normal" fill="#222" ><tspan font-style="italic">R</tspan><tspan font-size="9.8" dy="-4.3" dx="-0.6">2</tspan><tspan dy="4.3"> = 0.3</tspan></text>
<line x1="88.10" y1="643.30" x2="202.50" y2="693.10" stroke="#000" stroke-width="2.8"/>
<circle cx="106.40" cy="628.50" r="3.00" fill="#23a264" stroke="#0b8045" stroke-width="1.3"/>
<ellipse cx="105.03" cy="628.50" rx="0.94" ry="1.80" fill="#bfe8d2"/>
<circle cx="112.80" cy="627.90" r="3.00" fill="#23a264" stroke="#0b8045" stroke-width="1.3"/>
<ellipse cx="111.43" cy="627.90" rx="0.94" ry="1.80" fill="#bfe8d2"/>
<circle cx="109.60" cy="661.30" r="3.00" fill="#23a264" stroke="#0b8045" stroke-width="1.3"/>
<ellipse cx="108.23" cy="661.30" rx="0.94" ry="1.80" fill="#bfe8d2"/>
<circle cx="90.80" cy="673.70" r="3.00" fill="#23a264" stroke="#0b8045" stroke-width="1.3"/>
<ellipse cx="89.43" cy="673.70" rx="0.94" ry="1.80" fill="#bfe8d2"/>
<rect x="102.00" y="583.70" width="6.00" height="6.00" fill="#4f86c4" stroke="#0d0d12" stroke-width="1.6"/>
<rect x="119.50" y="620.10" width="6.00" height="6.00" fill="#4f86c4" stroke="#0d0d12" stroke-width="1.6"/>
<rect x="103.40" y="633.50" width="6.00" height="6.00" fill="#4f86c4" stroke="#0d0d12" stroke-width="1.6"/>
<rect x="112.80" y="643.80" width="6.00" height="6.00" fill="#4f86c4" stroke="#0d0d12" stroke-width="1.6"/>
<rect x="89.70" y="652.40" width="6.00" height="6.00" fill="#4f86c4" stroke="#0d0d12" stroke-width="1.6"/>
<rect x="85.10" y="659.10" width="6.00" height="6.00" fill="#4f86c4" stroke="#0d0d12" stroke-width="1.6"/>
<rect x="136.80" y="655.60" width="6.00" height="6.00" fill="#4f86c4" stroke="#0d0d12" stroke-width="1.6"/>
<rect x="129.00" y="662.60" width="6.00" height="6.00" fill="#4f86c4" stroke="#0d0d12" stroke-width="1.6"/>
<rect x="124.10" y="672.60" width="6.00" height="6.00" fill="#4f86c4" stroke="#0d0d12" stroke-width="1.6"/>
<rect x="117.90" y="688.20" width="6.00" height="6.00" fill="#4f86c4" stroke="#0d0d12" stroke-width="1.6"/>
<path d="M148.70 651.70L152.40 655.40L148.70 659.10L145.00 655.40Z" fill="#d9453f" stroke="#0d0d12" stroke-width="1.6"/>
<path d="M174.80 659.20L178.50 662.90L174.80 666.60L171.10 662.90Z" fill="#d9453f" stroke="#0d0d12" stroke-width="1.6"/>
<path d="M192.50 657.10L196.20 660.80L192.50 664.50L188.80 660.80Z" fill="#d9453f" stroke="#0d0d12" stroke-width="1.6"/>
<path d="M172.90 667.80L176.60 671.50L172.90 675.20L169.20 671.50Z" fill="#d9453f" stroke="#0d0d12" stroke-width="1.6"/>
<path d="M133.80 671.10L137.50 674.80L133.80 678.50L130.10 674.80Z" fill="#d9453f" stroke="#0d0d12" stroke-width="1.6"/>
<path d="M129.00 680.00L132.70 683.70L129.00 687.40L125.30 683.70Z" fill="#d9453f" stroke="#0d0d12" stroke-width="1.6"/>
<path d="M160.20 694.80L163.90 698.50L160.20 702.20L156.50 698.50Z" fill="#d9453f" stroke="#0d0d12" stroke-width="1.6"/>
<path d="M202.80 692.10L206.50 695.80L202.80 699.50L199.10 695.80Z" fill="#d9453f" stroke="#0d0d12" stroke-width="1.6"/>
<path d="M161.60 706.10L165.30 709.80L161.60 713.50L157.90 709.80Z" fill="#d9453f" stroke="#0d0d12" stroke-width="1.6"/>
<path d="M196.60 705.50L200.30 709.20L196.60 712.90L192.90 709.20Z" fill="#d9453f" stroke="#0d0d12" stroke-width="1.6"/>
<line x1="296.70" y1="580.50" x2="296.70" y2="715.20" stroke="#000" stroke-width="2.3"/>
<line x1="292.20" y1="581.50" x2="296.70" y2="581.50" stroke="#000" stroke-width="1.9"/>
<text x="0" y="0" font-size="10.5" text-anchor="end" fill="#1a1a1a" transform="translate(289.20,585.40) scale(0.92,1)">2500</text>
<line x1="292.20" y1="603.47" x2="296.70" y2="603.47" stroke="#000" stroke-width="1.9"/>
<line x1="292.20" y1="625.43" x2="296.70" y2="625.43" stroke="#000" stroke-width="1.9"/>
<text x="0" y="0" font-size="10.5" text-anchor="end" fill="#1a1a1a" transform="translate(289.20,629.33) scale(0.92,1)">2000</text>
<line x1="292.20" y1="647.40" x2="296.70" y2="647.40" stroke="#000" stroke-width="1.9"/>
<line x1="292.20" y1="669.37" x2="296.70" y2="669.37" stroke="#000" stroke-width="1.9"/>
<text x="0" y="0" font-size="10.5" text-anchor="end" fill="#1a1a1a" transform="translate(289.20,673.27) scale(0.92,1)">1500</text>
<line x1="292.20" y1="691.33" x2="296.70" y2="691.33" stroke="#000" stroke-width="1.9"/>
<line x1="292.20" y1="713.30" x2="296.70" y2="713.30" stroke="#000" stroke-width="1.9"/>
<text x="0" y="0" font-size="10.5" text-anchor="end" fill="#1a1a1a" transform="translate(289.20,717.20) scale(0.92,1)">1000</text>
<line x1="311.00" y1="715.30" x2="517.50" y2="715.30" stroke="#000" stroke-width="2.3"/>
<line x1="311.90" y1="715.30" x2="311.90" y2="719.00" stroke="#000" stroke-width="1.9"/>
<text x="0" y="0" font-size="10.5" text-anchor="middle" fill="#1a1a1a" transform="translate(311.90,730.30) scale(0.92,1)">1000</text>
<line x1="349.20" y1="715.30" x2="349.20" y2="719.00" stroke="#000" stroke-width="1.9"/>
<line x1="386.50" y1="715.30" x2="386.50" y2="719.00" stroke="#000" stroke-width="1.9"/>
<text x="0" y="0" font-size="10.5" text-anchor="middle" fill="#1a1a1a" transform="translate(386.50,730.30) scale(0.92,1)">5000</text>
<line x1="423.80" y1="715.30" x2="423.80" y2="719.00" stroke="#000" stroke-width="1.9"/>
<line x1="461.10" y1="715.30" x2="461.10" y2="719.00" stroke="#000" stroke-width="1.9"/>
<text x="0" y="0" font-size="10.5" text-anchor="middle" fill="#1a1a1a" transform="translate(461.10,730.30) scale(0.92,1)">9000</text>
<line x1="498.40" y1="715.30" x2="498.40" y2="719.00" stroke="#000" stroke-width="1.9"/>
<text x="0" y="0" font-size="13.3" text-anchor="middle" fill="#111" transform="translate(237.00,643.00) rotate(-90) scale(1.055,1)" >CD8<tspan font-family="Liberation Serif">β</tspan> MdFI</text>
<text x="0" y="0" font-size="13.3" text-anchor="middle" fill="#111" transform="translate(252.50,644.50) rotate(-90) scale(1.055,1)" >Naive CD8<tspan font-size="8.5" dy="-4.6">+</tspan><tspan dy="4.6"> </tspan>T cells</text>
<text x="0" y="0" font-size="13.3" text-anchor="middle" fill="#111" transform="translate(405.50,748.50) scale(1.055,1)">MHC-I MFI</text>
<text x="0" y="0" font-size="13.3" text-anchor="middle" fill="#111" transform="translate(406.00,765.00) scale(1.055,1)">(CD4<tspan font-size="8.5" dy="-4.6">+</tspan><tspan dy="4.6"> </tspan>T cells)</text>
<text x="423.10" y="599.60" font-size="12.0" text-anchor="start" font-weight="normal" fill="#222" ><tspan font-style="italic">P</tspan> = 0.004</text>
<text x="423.10" y="613.60" font-size="12.0" text-anchor="start" font-weight="normal" fill="#222" ><tspan font-style="italic">R</tspan><tspan font-size="9.8" dy="-4.3" dx="-0.6">2</tspan><tspan dy="4.3"> = 0.1</tspan></text>
<line x1="329.10" y1="642.20" x2="511.10" y2="679.00" stroke="#000" stroke-width="2.8"/>
<path d="M377.20 629.00L383.80 629.00L380.50 636.00Z" fill="#f39a2a"/>
<path d="M376.70 639.50L383.30 639.50L380.00 646.50Z" fill="#f39a2a"/>
<path d="M350.70 635.50L357.30 635.50L354.00 642.50Z" fill="#f39a2a"/>
<path d="M342.95 624.90L349.55 624.90L346.25 631.90Z" fill="#f39a2a"/>
<circle cx="354.10" cy="606.60" r="3.00" fill="#23a264" stroke="#0b8045" stroke-width="1.3"/>
<ellipse cx="352.73" cy="606.60" rx="0.94" ry="1.80" fill="#bfe8d2"/>
<circle cx="350.90" cy="613.60" r="3.00" fill="#23a264" stroke="#0b8045" stroke-width="1.3"/>
<ellipse cx="349.53" cy="613.60" rx="0.94" ry="1.80" fill="#bfe8d2"/>
<circle cx="342.00" cy="621.40" r="3.00" fill="#23a264" stroke="#0b8045" stroke-width="1.3"/>
<ellipse cx="340.63" cy="621.40" rx="0.94" ry="1.80" fill="#bfe8d2"/>
<circle cx="353.75" cy="623.00" r="3.00" fill="#23a264" stroke="#0b8045" stroke-width="1.3"/>
<ellipse cx="352.38" cy="623.00" rx="0.94" ry="1.80" fill="#bfe8d2"/>
<circle cx="350.90" cy="626.90" r="3.00" fill="#23a264" stroke="#0b8045" stroke-width="1.3"/>
<ellipse cx="349.53" cy="626.90" rx="0.94" ry="1.80" fill="#bfe8d2"/>
<circle cx="358.75" cy="631.60" r="3.00" fill="#23a264" stroke="#0b8045" stroke-width="1.3"/>
<ellipse cx="357.38" cy="631.60" rx="0.94" ry="1.80" fill="#bfe8d2"/>
<circle cx="346.25" cy="637.00" r="3.00" fill="#23a264" stroke="#0b8045" stroke-width="1.3"/>
<ellipse cx="344.88" cy="637.00" rx="0.94" ry="1.80" fill="#bfe8d2"/>
<circle cx="338.90" cy="640.60" r="3.00" fill="#23a264" stroke="#0b8045" stroke-width="1.3"/>
<ellipse cx="337.53" cy="640.60" rx="0.94" ry="1.80" fill="#bfe8d2"/>
<circle cx="346.25" cy="641.70" r="3.00" fill="#23a264" stroke="#0b8045" stroke-width="1.3"/>
<ellipse cx="344.88" cy="641.70" rx="0.94" ry="1.80" fill="#bfe8d2"/>
<circle cx="360.00" cy="648.75" r="3.00" fill="#23a264" stroke="#0b8045" stroke-width="1.3"/>
<ellipse cx="358.63" cy="648.75" rx="0.94" ry="1.80" fill="#bfe8d2"/>
<circle cx="366.25" cy="653.40" r="3.00" fill="#23a264" stroke="#0b8045" stroke-width="1.3"/>
<ellipse cx="364.88" cy="653.40" rx="0.94" ry="1.80" fill="#bfe8d2"/>
<circle cx="374.30" cy="664.30" r="3.00" fill="#23a264" stroke="#0b8045" stroke-width="1.3"/>
<ellipse cx="372.93" cy="664.30" rx="0.94" ry="1.80" fill="#bfe8d2"/>
<circle cx="363.10" cy="606.90" r="3.30" fill="none" stroke="#0d0d12" stroke-width="1.5"/>
<circle cx="360.80" cy="618.75" r="3.30" fill="none" stroke="#0d0d12" stroke-width="1.5"/>
<circle cx="364.70" cy="625.60" r="3.30" fill="none" stroke="#0d0d12" stroke-width="1.5"/>
<circle cx="369.40" cy="648.75" r="3.30" fill="none" stroke="#0d0d12" stroke-width="1.5"/>
<circle cx="370.20" cy="655.00" r="3.30" fill="none" stroke="#0d0d12" stroke-width="1.5"/>
<circle cx="379.30" cy="653.50" r="3.30" fill="none" stroke="#0d0d12" stroke-width="1.5"/>
<circle cx="388.50" cy="650.50" r="3.30" fill="none" stroke="#0d0d12" stroke-width="1.5"/>
<circle cx="381.50" cy="670.00" r="3.30" fill="none" stroke="#0d0d12" stroke-width="1.5"/>
<circle cx="372.40" cy="684.10" r="3.30" fill="none" stroke="#0d0d12" stroke-width="1.5"/>
<rect x="326.10" y="610.10" width="6.00" height="6.00" fill="#4f86c4" stroke="#0d0d12" stroke-width="1.6"/>
<rect x="353.60" y="614.20" width="6.00" height="6.00" fill="#4f86c4" stroke="#0d0d12" stroke-width="1.6"/>
<rect x="346.80" y="618.40" width="6.00" height="6.00" fill="#4f86c4" stroke="#0d0d12" stroke-width="1.6"/>
<rect x="357.30" y="622.60" width="6.00" height="6.00" fill="#4f86c4" stroke="#0d0d12" stroke-width="1.6"/>
<rect x="342.60" y="647.00" width="6.00" height="6.00" fill="#4f86c4" stroke="#0d0d12" stroke-width="1.6"/>
<rect x="345.30" y="654.30" width="6.00" height="6.00" fill="#4f86c4" stroke="#0d0d12" stroke-width="1.6"/>
<rect x="352.30" y="654.30" width="6.00" height="6.00" fill="#4f86c4" stroke="#0d0d12" stroke-width="1.6"/>
<rect x="332.30" y="661.10" width="6.00" height="6.00" fill="#4f86c4" stroke="#0d0d12" stroke-width="1.6"/>
<rect x="339.50" y="662.90" width="6.00" height="6.00" fill="#4f86c4" stroke="#0d0d12" stroke-width="1.6"/>
<rect x="349.20" y="664.80" width="6.00" height="6.00" fill="#4f86c4" stroke="#0d0d12" stroke-width="1.6"/>
<rect x="344.50" y="675.40" width="6.00" height="6.00" fill="#4f86c4" stroke="#0d0d12" stroke-width="1.6"/>
<rect x="379.50" y="676.70" width="6.00" height="6.00" fill="#4f86c4" stroke="#0d0d12" stroke-width="1.6"/>
<circle cx="345.60" cy="650.50" r="3.4" fill="#13955a" opacity="0.75"/>
<circle cx="352.20" cy="657.30" r="3.4" fill="#13955a" opacity="0.75"/>
<path d="M356.90 674.30L360.50 677.90L356.90 681.50L353.30 677.90Z" fill="#13955a" stroke="#0d0d12" stroke-width="1.7"/>
<path d="M370.60 588.40L374.40 592.20L370.60 596.00L366.80 592.20Z" fill="#a77aa6" stroke="#0d0d12" stroke-width="1.6"/>
<path d="M395.80 626.20L399.60 630.00L395.80 633.80L392.00 630.00Z" fill="#a77aa6" stroke="#0d0d12" stroke-width="1.6"/>
<path d="M420.00 644.20L423.80 648.00L420.00 651.80L416.20 648.00Z" fill="#a77aa6" stroke="#0d0d12" stroke-width="1.6"/>
<path d="M426.20 654.70L430.00 658.50L426.20 662.30L422.40 658.50Z" fill="#a77aa6" stroke="#0d0d12" stroke-width="1.6"/>
<path d="M390.00 653.90L393.80 657.70L390.00 661.50L386.20 657.70Z" fill="#a77aa6" stroke="#0d0d12" stroke-width="1.6"/>
<path d="M392.30 649.70L396.10 653.50L392.30 657.30L388.50 653.50Z" fill="#a77aa6" stroke="#0d0d12" stroke-width="1.6"/>
<path d="M376.20 687.00L380.00 690.80L376.20 694.60L372.40 690.80Z" fill="#a77aa6" stroke="#0d0d12" stroke-width="1.6"/>
<path d="M406.60 684.70L410.40 688.50L406.60 692.30L402.80 688.50Z" fill="#a77aa6" stroke="#0d0d12" stroke-width="1.6"/>
<path d="M368.60 660.60L372.40 664.40L368.60 668.20L364.80 664.40Z" fill="#a77aa6" stroke="#0d0d12" stroke-width="1.6"/>
<path d="M363.90 666.00L367.70 669.80L363.90 673.60L360.10 669.80Z" fill="#a77aa6" stroke="#0d0d12" stroke-width="1.6"/>
<path d="M360.30 669.95L364.10 673.75L360.30 677.55L356.50 673.75Z" fill="#a77aa6" stroke="#0d0d12" stroke-width="1.6"/>
<path d="M462.90 657.70L466.70 661.50L462.90 665.30L459.10 661.50Z" fill="#a77aa6" stroke="#0d0d12" stroke-width="1.6"/>
<path d="M373.80 611.60L377.60 615.40L373.80 619.20L370.00 615.40Z" fill="#d9453f" stroke="#0d0d12" stroke-width="1.6"/>
<path d="M401.50 615.40L405.30 619.20L401.50 623.00L397.70 619.20Z" fill="#d9453f" stroke="#0d0d12" stroke-width="1.6"/>
<path d="M444.60 643.10L448.40 646.90L444.60 650.70L440.80 646.90Z" fill="#d9453f" stroke="#0d0d12" stroke-width="1.6"/>
<path d="M388.50 661.60L392.30 665.40L388.50 669.20L384.70 665.40Z" fill="#d9453f" stroke="#0d0d12" stroke-width="1.6"/>
<path d="M400.80 660.00L404.60 663.80L400.80 667.60L397.00 663.80Z" fill="#d9453f" stroke="#0d0d12" stroke-width="1.6"/>
<path d="M375.80 668.20L379.60 672.00L375.80 675.80L372.00 672.00Z" fill="#d9453f" stroke="#0d0d12" stroke-width="1.6"/>
<path d="M385.40 668.20L389.20 672.00L385.40 675.80L381.60 672.00Z" fill="#d9453f" stroke="#0d0d12" stroke-width="1.6"/>
<path d="M430.80 675.40L434.60 679.20L430.80 683.00L427.00 679.20Z" fill="#d9453f" stroke="#0d0d12" stroke-width="1.6"/>
<path d="M438.50 671.60L442.30 675.40L438.50 679.20L434.70 675.40Z" fill="#d9453f" stroke="#0d0d12" stroke-width="1.6"/>
<path d="M442.30 676.50L446.10 680.30L442.30 684.10L438.50 680.30Z" fill="#d9453f" stroke="#0d0d12" stroke-width="1.6"/>
<path d="M447.70 684.20L451.50 688.00L447.70 691.80L443.90 688.00Z" fill="#d9453f" stroke="#0d0d12" stroke-width="1.6"/>
<path d="M496.30 673.40L500.10 677.20L496.30 681.00L492.50 677.20Z" fill="#d9453f" stroke="#0d0d12" stroke-width="1.6"/>
<path d="M511.10 655.10L514.90 658.90L511.10 662.70L507.30 658.90Z" fill="#d9453f" stroke="#0d0d12" stroke-width="1.6"/>
</svg>
</body></html>
